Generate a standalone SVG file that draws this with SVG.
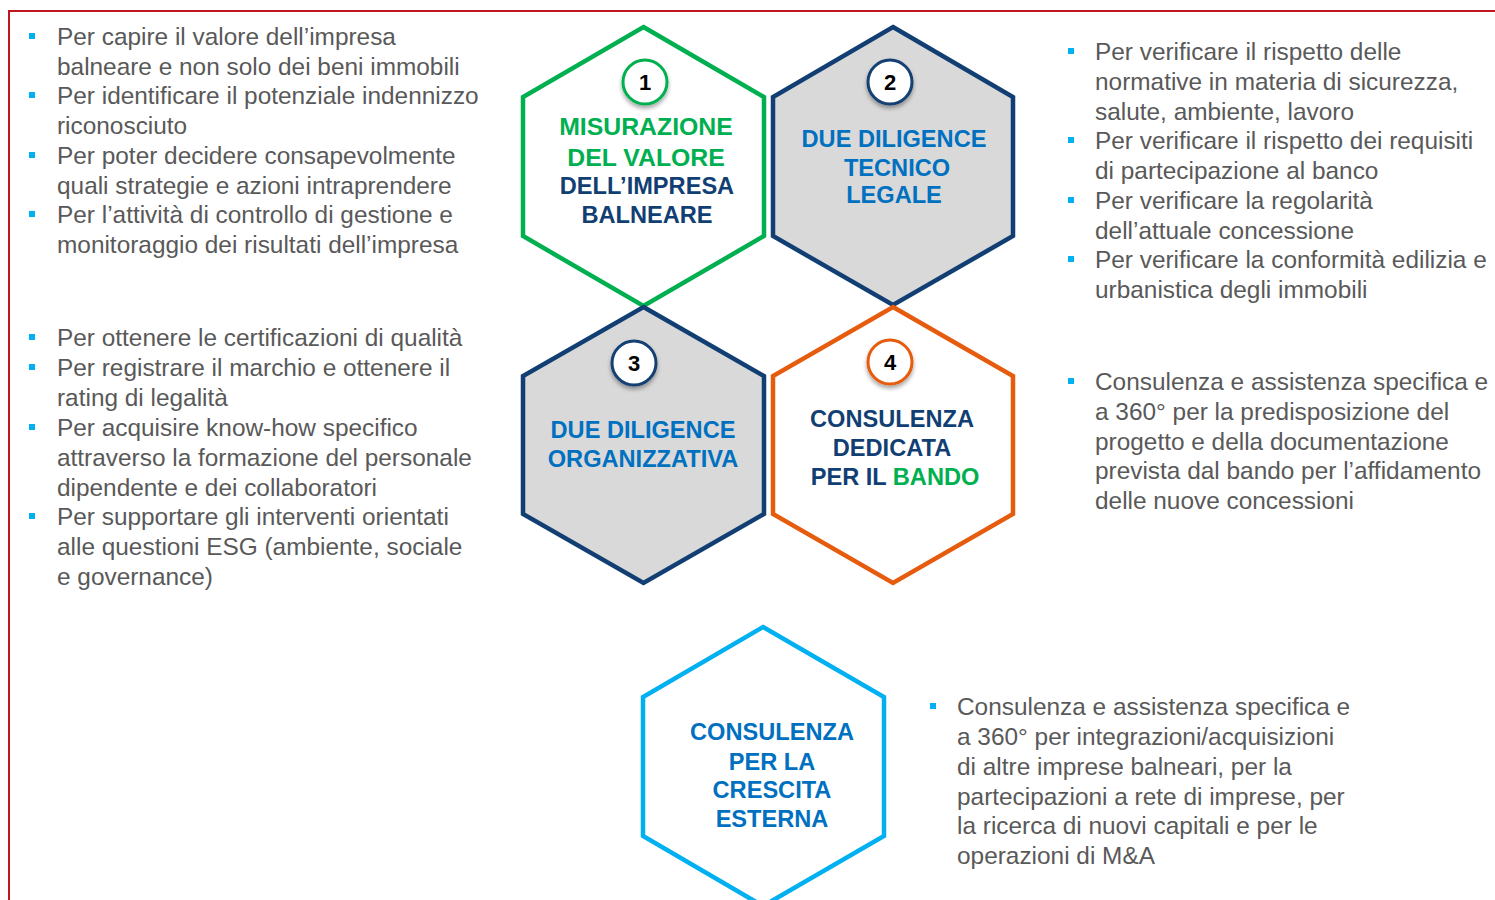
<svg xmlns="http://www.w3.org/2000/svg" width="1495" height="900" viewBox="0 0 1495 900">
<style>
.body{font-family:"Liberation Sans",Arial,sans-serif;font-size:24.4px;fill:#595959}
.hl{font-family:"Liberation Sans",Arial,sans-serif;font-size:23.6px;font-weight:bold;text-anchor:middle}
.big{font-size:24.8px}
.num{font-family:"Liberation Sans",Arial,sans-serif;font-size:22px;font-weight:bold;text-anchor:middle;fill:#000}
.hex{stroke-width:4.5;stroke-linejoin:miter}
.bul{fill:#00B0F0}
.green{fill:#00B050}
.navy{fill:#123F73}
.blue{fill:#0070C0}
.circ{fill:#fff;stroke-width:3}
</style>
<defs>
<filter id="sh" x="-40%" y="-40%" width="180%" height="200%">
<feDropShadow dx="0" dy="3" stdDeviation="2" flood-color="#000" flood-opacity="0.35"/>
</filter>
</defs>
<rect width="1495" height="900" fill="#fff"/>
<g id="frame" fill="none" stroke="#C0141E" stroke-width="2">
<path d="M9,900 V11 H1495"/>
</g>
<g id="connectors"/>

<g id="node1">
<polygon class="hex" points="643.5,27 764,97 764,236 643.5,306 523,236 523,97" fill="#fff" stroke="#00B050"/>
<circle class="circ" cx="645" cy="82" r="22" stroke="#00B050" filter="url(#sh)"/>
<text class="num" x="645" y="90">1</text>
<text class="hl"><tspan class="green big" x="646" y="135">MISURAZIONE</tspan><tspan class="green big" x="646" y="166">DEL VALORE</tspan><tspan class="navy" x="647" y="194">DELL’IMPRESA</tspan><tspan class="navy" x="647" y="223">BALNEARE</tspan></text>
</g>

<g id="node2">
<polygon class="hex" points="893,27 1013,97 1013,236 893,305 773,236 773,97" fill="#D9D9D9" stroke="#123F73"/>
<circle class="circ" cx="890" cy="82" r="22" stroke="#123F73" filter="url(#sh)"/>
<text class="num" x="890" y="90">2</text>
<text class="hl blue"><tspan x="894" y="147">DUE DILIGENCE</tspan><tspan x="897" y="176">TECNICO</tspan><tspan x="894" y="203">LEGALE</tspan></text>
</g>

<g id="node3">
<polygon class="hex" points="643.5,307 764,376 764,514 643.5,583 523,514 523,376" fill="#D9D9D9" stroke="#123F73"/>
<circle class="circ" cx="634" cy="363" r="22" stroke="#123F73" filter="url(#sh)"/>
<text class="num" x="634" y="371">3</text>
<text class="hl blue"><tspan x="643" y="438">DUE DILIGENCE</tspan><tspan x="643" y="467">ORGANIZZATIVA</tspan></text>
</g>

<g id="node4">
<polygon class="hex" points="893,307 1013,376 1013,514 893,583 773,514 773,376" fill="#fff" stroke="#E65C0E"/>
<circle class="circ" cx="890" cy="362" r="22" stroke="#E65C0E" filter="url(#sh)"/>
<text class="num" x="890" y="370">4</text>
<text class="hl navy"><tspan x="892" y="427">CONSULENZA</tspan><tspan x="892" y="456">DEDICATA</tspan><tspan x="895" y="485">PER IL <tspan class="green">BANDO</tspan></tspan></text>
</g>

<g id="node5">
<polygon class="hex" points="763,627 884,697 884,836 763,906 643,836 643,697" fill="#fff" stroke="#00B0F0"/>
<text class="hl blue"><tspan x="772" y="740">CONSULENZA</tspan><tspan x="772" y="770">PER LA</tspan><tspan x="772" y="798">CRESCITA</tspan><tspan x="772" y="827">ESTERNA</tspan></text>
</g>

<g id="text-left-top">
<rect class="bul" x="29" y="33" width="6" height="6"/>
<rect class="bul" x="29" y="92" width="6" height="6"/>
<rect class="bul" x="29" y="152" width="6" height="6"/>
<rect class="bul" x="29" y="211" width="6" height="6"/>
<text class="body"><tspan x="57" y="45">Per capire il valore dell’impresa</tspan><tspan x="57" y="75">balneare e non solo dei beni immobili</tspan><tspan x="57" y="104">Per identificare il potenziale indennizzo</tspan><tspan x="57" y="134">riconosciuto</tspan><tspan x="57" y="164">Per poter decidere consapevolmente</tspan><tspan x="57" y="194">quali strategie e azioni intraprendere</tspan><tspan x="57" y="223">Per l’attività di controllo di gestione e</tspan><tspan x="57" y="253">monitoraggio dei risultati dell’impresa</tspan></text>
</g>

<g id="text-left-bottom">
<rect class="bul" x="29" y="334" width="6" height="6"/>
<rect class="bul" x="29" y="364" width="6" height="6"/>
<rect class="bul" x="29" y="424" width="6" height="6"/>
<rect class="bul" x="29" y="513" width="6" height="6"/>
<text class="body"><tspan x="57" y="346">Per ottenere le certificazioni di qualità</tspan><tspan x="57" y="376">Per registrare il marchio e ottenere il</tspan><tspan x="57" y="406">rating di legalità</tspan><tspan x="57" y="436">Per acquisire know-how specifico</tspan><tspan x="57" y="466">attraverso la formazione del personale</tspan><tspan x="57" y="496">dipendente e dei collaboratori</tspan><tspan x="57" y="525">Per supportare gli interventi orientati</tspan><tspan x="57" y="555">alle questioni ESG (ambiente, sociale</tspan><tspan x="57" y="585">e governance)</tspan></text>
</g>

<g id="text-right-top">
<rect class="bul" x="1068" y="48" width="6" height="6"/>
<rect class="bul" x="1068" y="137" width="6" height="6"/>
<rect class="bul" x="1068" y="197" width="6" height="6"/>
<rect class="bul" x="1068" y="256" width="6" height="6"/>
<text class="body"><tspan x="1095" y="60">Per verificare il rispetto delle</tspan><tspan x="1095" y="90">normative in materia di sicurezza,</tspan><tspan x="1095" y="120">salute, ambiente, lavoro</tspan><tspan x="1095" y="149">Per verificare il rispetto dei requisiti</tspan><tspan x="1095" y="179">di partecipazione al banco</tspan><tspan x="1095" y="209">Per verificare la regolarità</tspan><tspan x="1095" y="239">dell’attuale concessione</tspan><tspan x="1095" y="268">Per verificare la conformità edilizia e</tspan><tspan x="1095" y="298">urbanistica degli immobili</tspan></text>
</g>

<g id="text-right-middle">
<rect class="bul" x="1068" y="378" width="6" height="6"/>
<text class="body"><tspan x="1095" y="390">Consulenza e assistenza specifica e</tspan><tspan x="1095" y="420">a 360° per la predisposizione del</tspan><tspan x="1095" y="450">progetto e della documentazione</tspan><tspan x="1095" y="479">prevista dal bando per l’affidamento</tspan><tspan x="1095" y="509">delle nuove concessioni</tspan></text>
</g>

<g id="text-right-bottom">
<rect class="bul" x="930" y="703" width="6" height="6"/>
<text class="body"><tspan x="957" y="715">Consulenza e assistenza specifica e</tspan><tspan x="957" y="745">a 360° per integrazioni/acquisizioni</tspan><tspan x="957" y="775">di altre imprese balneari, per la</tspan><tspan x="957" y="805">partecipazioni a rete di imprese, per</tspan><tspan x="957" y="834">la ricerca di nuovi capitali e per le</tspan><tspan x="957" y="864">operazioni di M&amp;A</tspan></text>
</g>
</svg>
